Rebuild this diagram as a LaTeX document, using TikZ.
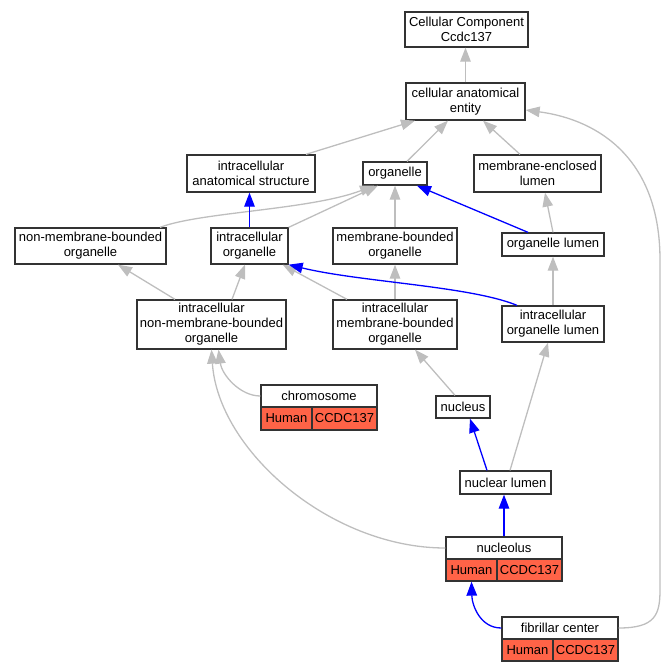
\documentclass[tikz,border=0pt]{standalone}
\usepackage{fontspec}
\setmainfont{Liberation Sans}
\usetikzlibrary{arrows.meta}
\definecolor{edgegray}{HTML}{BEBEBE}
\definecolor{tomato}{HTML}{FF6347}
\definecolor{boxline}{HTML}{333333}
\tikzset{
  box/.style={draw=boxline, line width=1.3pt, fill=white, inner sep=0pt, align=center, font=\fontsize{13}{15}\selectfont},
  cell/.style={box, fill=tomato},
  edge/.style={draw=edgegray, line width=1.3pt, -{Triangle[length=14pt,width=10.5pt]}},
  bedge/.style={edge, draw=blue},
}
\begin{document}
\begin{tikzpicture}[x=1pt,y=-1pt]
\useasboundingbox (0,0) rectangle (666,672);
% nodes
\node[box, minimum width=123, minimum height=35] (cc) at (466.5,29.5) {Cellular Component\\Ccdc137};
\node[box, minimum width=119, minimum height=37] (cae) at (465.5,101.5) {cellular anatomical\\entity};
\node[box, minimum width=128, minimum height=37] (ias) at (251,173.5) {intracellular\\anatomical structure};
\node[box, minimum width=64, minimum height=23] (org) at (395,173.5) {organelle};
\node[box, minimum width=127, minimum height=37] (mel) at (537.5,173.5) {membrane-enclosed\\lumen};
\node[box, minimum width=151, minimum height=36] (nmbo) at (90.5,246) {non-membrane-bounded\\organelle};
\node[box, minimum width=77, minimum height=36] (io) at (249.5,246) {intracellular\\organelle};
\node[box, minimum width=124, minimum height=36] (mbo) at (395,246) {membrane-bounded\\organelle};
\node[box, minimum width=102, minimum height=23] (ol) at (553,244.5) {organelle lumen};
\node[box, minimum width=149, minimum height=49] (inmbo) at (211.5,324.5) {intracellular\\non-membrane-bounded\\organelle};
\node[box, minimum width=124, minimum height=49] (imbo) at (395,324.5) {intracellular\\membrane-bounded\\organelle};
\node[box, minimum width=102, minimum height=36] (iol) at (553,324) {intracellular\\organelle lumen};
\node[box, minimum width=116, minimum height=22] (chrom) at (319,396) {chromosome};
\node[cell, minimum width=51, minimum height=23] (chromH) at (286.5,418.5) {Human};
\node[cell, minimum width=65, minimum height=23] (chromC) at (344.5,418.5) {CCDC137};
\node[box, minimum width=54, minimum height=22] (nuc) at (463,407) {nucleus};
\node[box, minimum width=91, minimum height=23] (nl) at (505.5,482.5) {nuclear lumen};
\node[box, minimum width=116, minimum height=22] (nclo) at (504,548) {nucleolus};
\node[cell, minimum width=51, minimum height=22] (ncloH) at (471.5,570) {Human};
\node[cell, minimum width=65, minimum height=22] (ncloC) at (529.5,570) {CCDC137};
\node[box, minimum width=116, minimum height=22] (fc) at (560,628) {fibrillar center};
\node[cell, minimum width=51, minimum height=22] (fcH) at (527.5,650) {Human};
\node[cell, minimum width=65, minimum height=22] (fcC) at (585.5,650) {CCDC137};
% edges
\draw[edge] (cae.north) -- (cae.north |- cc.south);
\draw[edge] ([xshift=55]ias.north) -- ([xshift=-50.5]cae.south);
\draw[edge] ([xshift=12]org.north) -- ([xshift=-17.5]cae.south);
\draw[edge] ([xshift=-17.5]mel.north) -- ([xshift=17.5]cae.south);
\draw[edge] (fc.east) .. controls (655,628) and (660,615) .. (660,590) -- (660,260) .. controls (660,160) and (600,120) .. ([yshift=-8.5]cae.east);
\draw[edge] ([xshift=69.5]nmbo.north) .. controls (200,212) and (310,210) .. ([xshift=-21]org.south);
\draw[edge] (io.north east) -- ([xshift=-17]org.south);
\draw[edge] (mbo.north) -- (org.south);
\draw[bedge] ([xshift=-25]ol.north) -- ([xshift=22]org.south);
\draw[edge] (ol.north) -- ([xshift=7.5]mel.south);
\draw[bedge] (io.north) -- (io.north |- ias.south);
\draw[edge] ([xshift=-36.5]inmbo.north) -- ([xshift=27.5]nmbo.south);
\draw[edge] ([xshift=20.5]inmbo.north) -- ([xshift=-4.5]io.south);
\draw[edge] ([xshift=-48]imbo.north) -- ([xshift=-6]io.south east);
\draw[edge] (imbo.north) -- (mbo.south);
\draw[bedge] ([xshift=-36]iol.north) .. controls (470,286) and (360,282) .. (io.south east);
\draw[edge] (iol.north) -- (ol.south);
\draw[edge] (chrom.west) .. controls (240,396) and (222,375) .. ([xshift=7]inmbo.south);
\draw[edge] ([xshift=-8]nuc.north) -- ([xshift=20]imbo.south);
\draw[bedge] ([xshift=-18.5]nl.north) -- ([xshift=7]nuc.south);
\draw[edge] ([xshift=4.5]nl.north) -- ([xshift=-5]iol.south);
\draw[edge] (nclo.west) .. controls (330,548) and (218,450) .. (inmbo.south);
\draw[bedge] (nclo.north) -- (nclo.north |- nl.south);
\draw[bedge] (fc.west) .. controls (480,628) and (472,605) .. (ncloH.south);
\end{tikzpicture}
\end{document}
